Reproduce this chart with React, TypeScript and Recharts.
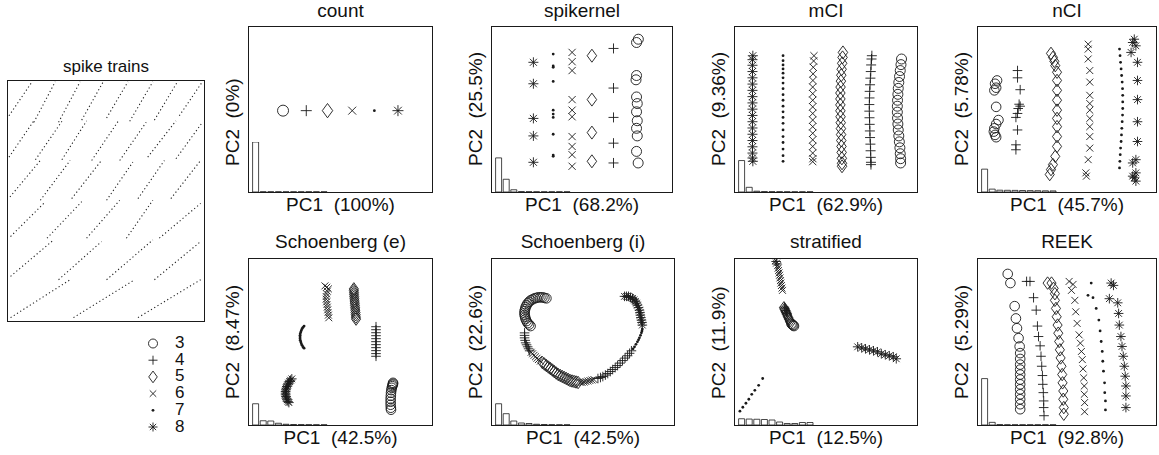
import React from "react";
import { ScatterChart, Scatter, XAxis, YAxis, BarChart, Bar, LineChart, Line } from "recharts";

type P = [number, number][];

// ---- spike trains (segments x1,y1,x2,y2 in % of box) ----
const spikeSegments = [
  [0.5, 85.5, 12.3, 99.7], [13.2, 82.8, 24.1, 99.7], [25.8, 82.8, 36.8, 99.7], [37.6, 83.7, 48.6, 99.7],
  [50.3, 84.6, 61.2, 99.7], [62.1, 83.2, 73.9, 99.7], [74.7, 83.7, 86.5, 99.7], [87.4, 85.5, 99.2, 99.7],
  [0.5, 68.3, 13.2, 83.4], [14, 67.2, 27.5, 83.2], [27.5, 67.2, 40.1, 83.4], [42.7, 66.9, 56.2, 83.2],
  [57, 66.9, 70.5, 82.8], [71.3, 68.3, 85.7, 83.4], [85.7, 67.6, 99.2, 82.8],
  [1, 51.7, 16.5, 66.9], [16.5, 50.3, 31.7, 66.9], [32.5, 51, 47.7, 66.9], [50.3, 50.3, 63.7, 66.2],
  [66.3, 51, 79.8, 66.9], [83.1, 51, 98.3, 66.9],
  [1.3, 35.2, 19.1, 49.7], [19.9, 34.5, 37.6, 49.7], [40.1, 34.5, 57, 50.3], [60.4, 34.5, 73.9, 50.3],
  [77.2, 34.5, 98.3, 49],
  [1.3, 18.6, 23.3, 33.8], [25.8, 17.2, 47.7, 33.1], [50.3, 17.2, 73.9, 33.8], [74.7, 17.2, 98.3, 33.1],
  [1.3, 1.4, 31.7, 17.2], [33.4, 1.4, 64.6, 17.2], [66.3, 1.4, 98.3, 17.2],
];

const legendKinds = ["o", "+", "d", "x", ".", "*"];
const legendLabels = ["3", "4", "5", "6", "7", "8"];

// ---- count ----
const count3: P = [[18.6, 49.3]];
const count4: P = [[31.3, 49.3]];
const count5: P = [[42.9, 49.3]];
const count6: P = [[56.4, 49.3]];
const count7: P = [[68.5, 49.3]];
const count8: P = [[81.4, 49.3]];
const countSpec = [100, 0.4, 0.4, 0.4, 0.4, 0.4, 0.4, 0.4, 0.4, 0.4];

// ---- spikernel ----
const sk3: P = [[81.3, 92.6], [80.3, 90.6], [80.3, 70.6], [80, 68], [80.3, 57.6], [80.7, 53.6], [80.3, 48.6], [80.7, 43.2], [80.3, 38.6], [80.7, 34], [80.3, 24.6], [81.2, 17.6]];
const sk4: P = [[67.5, 87], [67.5, 63], [67.5, 45.2], [67.5, 29.6], [67.5, 17.6]];
const sk5: P = [[55.5, 82.6], [55.5, 56], [55.5, 36], [55.5, 18.6]];
const sk6: P = [[44.5, 84.6], [44.5, 79], [44.5, 73.6], [44.5, 56], [44.5, 49.6], [44.5, 45.6], [44.5, 33.6], [44.5, 27.6], [44.5, 22.6], [44.5, 15.6]];
const sk7: P = [[34, 83.6], [34, 76.4], [34, 75.6], [34, 67], [34, 49.6], [34, 47.2], [34, 45.2], [34, 35], [34, 22.4], [34, 21.6]];
const sk8: P = [[23, 78.6], [23, 65.6], [23, 44.6], [23, 34], [23, 18]];
const skSpec = [68.2, 25.5, 4.5, 0.8, 0.5, 0.4, 0.4, 0.4, 0.4, 0.4];

// ---- mCI ----
const mci3: P = [[91.5, 80.6], [91.2, 77.2], [90.8, 73.6], [90.4, 70], [90, 66.4], [89.7, 62.8], [89.5, 59.2], [89.3, 55.6], [89.2, 52], [89.2, 48.4], [89.3, 44.8], [89.5, 41.2], [89.7, 37.6], [90, 34], [90.3, 30.4], [90.6, 26.8], [90.8, 23.2], [91, 20.2], [91, 17.6]];
const mci4: P = [[75.2, 82.6], [75, 80.6], [74.8, 77], [74.6, 73], [74.4, 69], [74.2, 65], [74, 61], [73.9, 57], [73.8, 53], [73.8, 49], [73.9, 45], [74, 41], [74.1, 37], [74.2, 33], [74.4, 29], [74.5, 25], [74.6, 21], [74.7, 18], [74.7, 16.6]];
const mci5: P = [[59.3, 84.6], [59.1, 81.6], [58.9, 78], [58.6, 74.4], [58.4, 70.8], [58.2, 67.2], [58, 63.6], [57.9, 60], [57.9, 56.4], [57.9, 52.8], [57.9, 49.2], [58, 45.6], [58.1, 42], [58.2, 38.4], [58.3, 34.8], [58.4, 31.2], [58.5, 27.6], [58.6, 24], [58.7, 20.4], [58.8, 17.4], [58.8, 15.6]];
const mci6: P = [[43.4, 82.6], [43.2, 79.4], [43, 75.6], [42.9, 71.6], [42.8, 67.6], [42.7, 63.6], [42.7, 59.6], [42.7, 55.6], [42.7, 51.6], [42.7, 47.6], [42.7, 43.6], [42.7, 39.6], [42.7, 35.6], [42.7, 31.6], [42.7, 27.6], [42.7, 23.6], [42.8, 20.2], [42.7, 18.4]];
const mci7: P = [[26.4, 82.6], [26.4, 79.6], [26.4, 77], [26.4, 74.6], [26.4, 72], [26.4, 69.2], [26.4, 66], [26.4, 62.6], [26.4, 59], [26.4, 55.6], [26.4, 52], [26.4, 48.6], [26.4, 45.2], [26.4, 41.6], [26.4, 37.6], [26.4, 33.6], [26.4, 30], [26.4, 26], [26.4, 22], [26.4, 18.6]];
const mci8: P = [[9.8, 82.6], [9.6, 80.2], [9.6, 76.8], [9.6, 73], [9.6, 69.2], [9.6, 65.4], [9.6, 61.6], [9.6, 57.8], [9.6, 54], [9.6, 50.2], [9.6, 46.4], [9.6, 42.6], [9.6, 38.8], [9.6, 35], [9.6, 31.2], [9.6, 27.4], [9.6, 23.6], [9.6, 20.6], [9.8, 18.6]];
const mciSpec = [62.9, 9.36, 1.6, 0.8, 0.6, 0.5, 0.4, 0.4, 0.4, 0.4];

// ---- nCI ----
const nci3: P = [[10.7, 67.6], [9.6, 65.6], [10.2, 63.2], [9.2, 61.6], [10.2, 51.6], [11.5, 43.6], [10.2, 41.2], [9.2, 38.6], [8.9, 36.6], [9.6, 34.6], [10.2, 33.2]];
const nci4: P = [[22.2, 73.6], [22.2, 69.2], [23.7, 62], [23.1, 53.2], [23.7, 52], [22.6, 50.6], [22.2, 47.6], [21.3, 45.2], [22.2, 37.6], [21.3, 28.6], [21.3, 25.6]];
const nci5: P = [[41, 84], [42.1, 81.6], [42.9, 79.2], [43.4, 76.6], [44.4, 72.6], [44.4, 67.6], [44.4, 61.6], [44.4, 55.6], [44.4, 49.6], [44.4, 44.6], [44.4, 39.6], [44.4, 33.6], [44.4, 27.6], [43.4, 21.6], [42.1, 16.6], [41, 13.6], [40.3, 10.6]];
const nci6: P = [[61.9, 89.6], [61.9, 86.6], [61.9, 80.6], [62.8, 73.6], [62.8, 66.6], [62.8, 58.6], [62.8, 53.6], [62.8, 49.6], [62.8, 44.6], [62.8, 39.6], [62.8, 33.6], [62.8, 26.6], [61.9, 19.6], [60.6, 11.6], [60.9, 9.6]];
const nci7: P = [[79.5, 86.6], [79.8, 82.6], [80.1, 78.6], [80.4, 74.6], [80.7, 70.6], [81, 66.6], [81.2, 62.6], [81.3, 58.6], [81.3, 54.6], [81.3, 50.6], [81.2, 46.6], [81, 42.6], [80.8, 38.6], [80.6, 34.6], [80.4, 30.6], [80.1, 26.6], [79.9, 22.6], [79.7, 18.6], [79.5, 14.6]];
const nci8: P = [[87.8, 92.6], [86.9, 90.6], [88.7, 88.6], [86, 84.6], [89.6, 78.6], [89.6, 67.6], [89.6, 56], [89.6, 42.6], [89.6, 30.6], [88.7, 19.6], [86.9, 17.6], [88.7, 11.6], [87.8, 8.6], [88.7, 6.6], [86.9, 9.6]];
const nciSpec = [45.7, 5.78, 3.6, 3.4, 3.2, 3, 2.8, 2.6, 2.4, 2.2];

// ---- Schoenberg (e) ----
const se3: P = [[78.7, 25.4], [78.7, 24.8], [78.5, 24.2], [78.3, 23.4], [78, 22.4], [77.8, 21], [77.6, 19.4], [77.5, 17.6], [77.4, 15.8], [77.4, 14], [77.4, 12.2], [77.5, 10.4], [77.6, 9.2]];
const se4: P = [[69.4, 59.2], [69.4, 57.4], [69.4, 55.6], [69.4, 53.8], [69.4, 52], [69.4, 50.2], [69.4, 48.4], [69.4, 46.6], [69.4, 44.8], [69.4, 43], [69.4, 41.4]];
const se5: P = [[57.3, 82], [57.3, 81], [57.4, 79.8], [57.4, 78.6], [57.5, 77.3], [57.6, 76], [57.7, 74.7], [57.8, 73.4], [57.9, 72], [58, 70.6], [58.1, 69.2], [58.2, 67.8], [58.3, 66.4], [58.4, 65], [58.5, 63.8]];
const se6: P = [[41.5, 83.8], [42.5, 83], [43.4, 82], [42.8, 80.6], [42.4, 79], [42.2, 77.4], [42.2, 75.8], [42.4, 74.2], [42.6, 72.6], [42.8, 71], [43, 69.4], [43.2, 67.8], [43.4, 66.2], [43.6, 64.6]];
const se7: P = [[30.1, 59.6], [29.5, 58.8], [29, 58], [28.6, 57], [28.3, 56], [28, 55], [27.9, 54], [27.9, 53], [27.9, 52], [28, 51], [28.3, 50], [28.6, 49], [29, 48], [29.5, 47], [30.1, 46.3]];
const se8: P = [[23.4, 27.8], [22.7, 27], [22.2, 26.2], [21.6, 25.2], [21.1, 24.2], [20.7, 23.2], [20.4, 22.2], [20.2, 21.2], [20, 20.2], [20, 19.2], [20, 18.2], [20.2, 17.2], [20.4, 16.2], [20.8, 15.2], [21.3, 14.2], [21.8, 13.5]];
const seSpec = [42.5, 8.47, 8, 3.5, 1.5, 1, 0.8, 0.6, 0.5, 0.4];

// ---- Schoenberg (i) ----
const si3: P = [[29.9, 76.3], [28.8, 76.6], [27.7, 76.9], [26.6, 76.9], [25.5, 76.9], [24.4, 76.6], [23.4, 76.3], [22.3, 75.7], [21.2, 75.1], [20.4, 74.2], [19.6, 73.3], [19, 72.1], [18.5, 71], [18.2, 69.8], [17.9, 68.6], [17.9, 67.4], [17.9, 66.2], [18.2, 65], [18.5, 63.8], [19, 62.6], [19.6, 61.4], [20.4, 60.5], [21.2, 59.6]];
const si4: P = [[17.9, 55.5], [17.9, 54], [17.9, 52.5], [18.2, 51], [18.5, 49.5], [19, 48.3], [19.6, 47.1], [20.1, 45.9], [20.7, 44.7],
  [58.2, 28], [59.6, 28.6], [60.9, 29.2], [62.3, 30.1], [63.6, 31], [65, 32.2], [66.3, 33.4], [67.7, 34.6], [69, 35.8], [70.4, 37.3], [71.7, 38.8], [73.1, 40.3], [74.5, 41.7], [75.6, 43.2], [76.6, 44.7]];
const si5: P = [[27.7, 37.6], [28.8, 36.7], [29.9, 35.8], [31, 34.9], [32.1, 34], [33.2, 33.1], [34.2, 32.2], [35.3, 31.3], [36.4, 30.4], [37.5, 29.8], [38.6, 29.2], [39.7, 28.6], [40.8, 28], [41.9, 27.4], [42.9, 26.8], [44, 26.5], [45.1, 26.2], [46.2, 25.9], [47.3, 25.6]];
const si6: P = [[21.5, 43.8], [22.3, 42.9], [23.1, 42], [23.9, 41.1], [24.7, 40.2], [25.5, 39.4], [26.6, 38.5],
  [48.4, 25.6], [49.5, 25.6], [50.6, 25.9], [51.6, 26.2], [52.7, 26.5], [53.8, 26.8], [54.9, 27.1], [56, 27.4]];
const si7: P = [[77.5, 45.9], [78.3, 47.1], [79.1, 48.6], [79.9, 50.1], [80.5, 51.3], [81, 52.5], [81.6, 54], [82.1, 55.5], [82.4, 56.7], [82.6, 57.8]];
const si8: P = [[82.6, 60.2], [82.4, 61.7], [82.1, 63.2], [81.8, 64.7], [81.5, 66.2], [81.3, 67.7], [81, 69.2], [80.5, 70.7], [79.9, 72.2], [79.4, 73.4], [78.8, 74.5], [78, 75.4], [77.2, 76.3], [76.1, 76.9], [75, 77.5], [73.9, 77.5], [72.8, 77.5]];
const siSpec = [42.5, 22.6, 8, 4, 3, 1.5, 1, 0.6, 0.4, 0.4];

// ---- stratified ----
const st3: P = [[31, 61], [31.5, 60.4], [32, 60], [32.4, 59.6]];
const st4: P = [[22.6, 98.5], [23, 97], [27.1, 71], [27.5, 70], [27.9, 69], [28.3, 68], [28.7, 67]];
const st5: P = [[26.9, 70.6], [27.3, 69.6], [27.7, 68.6], [28.1, 67.6], [28.5, 66.6], [28.9, 65.6], [29.3, 64.6], [29.7, 63.6], [30.1, 62.6], [30.5, 61.6]];
const st6: P = [[22.3, 99], [22.8, 97.5], [23.4, 96], [23.7, 94.5], [23.9, 93], [24.2, 91.6], [24.5, 90.2], [24.7, 88.6], [25, 87], [25.2, 85.5], [25.5, 84], [25.8, 82.5], [26.1, 81.1]];
const st7: P = [[2.7, 8.3], [4.3, 10.7], [6, 13.1], [7.6, 15.5], [9.2, 18.5], [10.9, 20.9], [13, 23.9], [15.2, 28]];
const st8: P = [[67.4, 47.1], [69.6, 46.5], [71.7, 45.9], [73.9, 45.3], [76.1, 44.7], [78.3, 44.1], [80.4, 42.9], [82.6, 42.3], [84.8, 41.7], [87, 41.1], [88.6, 39.9]];
const stSpec = [12.5, 11.9, 11.5, 11, 10, 6, 3, 3, 5, 5];

// ---- REEK ----
const rk3: P = [[16.7, 91], [18.2, 85.5], [20.6, 71.6], [21.3, 64.2], [21.9, 58.3], [22.8, 52.3], [23.4, 47.3], [23.7, 43.3], [23.7, 39.8], [23.7, 36.4], [23.7, 33.4], [23.7, 30.4], [23.7, 27.4], [23.7, 24.5], [23.7, 21.5], [23.7, 18.5], [23.7, 15.5], [23.7, 12.5], [23.7, 9.5]];
const rk4: P = [[27.3, 86.5], [29.2, 86.5], [31.2, 76.7], [32.7, 69.2], [33.4, 59.6], [34, 53.3], [34.9, 47.7], [35.4, 41.4], [35.8, 35.4], [36.2, 29.8], [36.4, 24.5], [36.7, 19.5], [36.9, 14.5], [36.9, 10.5], [37.1, 5.6]];
const rk5: P = [[39.1, 85.5], [41.3, 85.5], [42.5, 82.3], [43.2, 79.1], [43.2, 75.1], [43.8, 70.2], [44.2, 65.2], [44.7, 60.2], [45.1, 55.3], [45.6, 50.3], [46, 45.3], [46.4, 40.4], [46.9, 35.4], [47.3, 30.4], [47.5, 25.4], [47.9, 20.5], [47.9, 15.5], [48.2, 10.5], [48.2, 6.5]];
const rk6: P = [[51.2, 86.5], [53.4, 84.7], [52.5, 81.1], [54.4, 75.1], [54.9, 68.2], [55.7, 61.2], [56.8, 54.3], [57.5, 49.3], [58.1, 44.3], [58.6, 39.4], [59, 33.8], [59.4, 28.4], [59.7, 23.5], [59.7, 18.5], [59.9, 13.5], [59.9, 8]];
const rk7: P = [[63.6, 85.5], [61.8, 78.1], [64.6, 76.7], [66.4, 70.2], [67.9, 63.2], [68.6, 56.7], [69.2, 50.3], [69.8, 44.3], [70.1, 38.4], [70.5, 32.4], [71.1, 25.4], [71.2, 19.5], [71.6, 14.5], [71.6, 9.1]];
const rk8: P = [[74.8, 85.5], [76.1, 84.1], [73.8, 76.1], [78.5, 73.6], [79, 67.2], [79.4, 60.2], [80.3, 53.3], [80.9, 47.3], [81.6, 41.4], [82.2, 35.4], [82.7, 29.4], [83.1, 23.5], [83.1, 17.5], [83.1, 10.5]];
const rkSpec = [92.8, 5.29, 0.8, 0.4, 0.4, 0.4, 0.4, 0.4, 0.4, 0.4];

const FONT = '"Liberation Sans", Arial, Helvetica, sans-serif';
const INK = "#1a1a1a";

function Marker({ cx, cy, kind, s }: { cx: number; cy: number; kind: string; s: number }) {
  const st = { stroke: INK, strokeWidth: 0.9, fill: "none" };
  if (cx == null || cy == null) return null;
  if (kind === "o") return <circle cx={cx} cy={cy} r={s} {...st} />;
  if (kind === "+") return <path d={`M${cx - s},${cy}H${cx + s}M${cx},${cy - s}V${cy + s}`} {...st} />;
  if (kind === "d") {
    const w = s * 0.95, h = s * 1.3;
    return <path d={`M${cx},${cy - h}L${cx + w},${cy}L${cx},${cy + h}L${cx - w},${cy}Z`} {...st} />;
  }
  if (kind === "x") {
    const a = s * 0.72;
    return <path d={`M${cx - a},${cy - a}L${cx + a},${cy + a}M${cx - a},${cy + a}L${cx + a},${cy - a}`} {...st} />;
  }
  if (kind === ".") return <circle cx={cx} cy={cy} r={1.4} fill={INK} />;
  const a = s * 0.7;
  return (
    <path
      d={`M${cx - s},${cy}H${cx + s}M${cx},${cy - s}V${cy + s}M${cx - a},${cy - a}L${cx + a},${cy + a}M${cx - a},${cy + a}L${cx + a},${cy - a}`}
      {...st}
    />
  );
}

const textStyle: React.CSSProperties = {
  position: "absolute",
  fontFamily: FONT,
  fontSize: 19,
  lineHeight: "22px",
  whiteSpace: "pre",
  color: "#111",
};

type PanelProps = {
  left: number;
  top: number;
  w: number;
  h: number;
  title: string;
  pc1: string;
  pc2: string;
  s: number;
  series: { kind: string; pts: P }[];
  spec: number[];
};

function Panel({ left, top, w, h, title, pc1, pc2, s, series, spec }: PanelProps) {
  return (
    <>
      <div style={{ ...textStyle, left, top: Math.max(0, top - 27), width: w, textAlign: "center" }}>{title}</div>
      <div
        style={{
          position: "absolute",
          left,
          top,
          width: w,
          height: h,
          border: `1px solid ${INK}`,
          boxSizing: "border-box",
        }}
      >
        <ScatterChart width={w - 2} height={h - 2} margin={{ top: 0, right: 0, bottom: 0, left: 0 }}>
          <XAxis type="number" dataKey="x" domain={[0, 100]} hide />
          <YAxis type="number" dataKey="y" domain={[0, 100]} hide />
          {series.map((sr, i) => (
            <Scatter
              key={i}
              data={sr.pts.map(([x, y]) => ({ x, y }))}
              isAnimationActive={false}
              shape={(p: any) => <Marker cx={p.cx} cy={p.cy} kind={sr.kind} s={s} />}
            />
          ))}
        </ScatterChart>
        <div style={{ position: "absolute", left: 3, bottom: 0 }}>
          <BarChart
            width={76}
            height={50}
            data={spec.map((v, i) => ({ i, v }))}
            margin={{ top: 0, right: 0, bottom: 0, left: 0 }}
            barCategoryGap={0.6}
          >
            <XAxis dataKey="i" hide />
            <YAxis domain={[0, 100]} hide />
            <Bar dataKey="v" fill="#fff" stroke={INK} strokeWidth={0.8} isAnimationActive={false} />
          </BarChart>
        </div>
      </div>
      <div style={{ ...textStyle, left, top: top + h + 1, width: w, textAlign: "center" }}>{pc1}</div>
      <div
        style={{
          ...textStyle,
          left: left - 26.3,
          top: top + h - 27,
          transformOrigin: "0 0",
          transform: "rotate(-90deg)",
        }}
      >
        {pc2}
      </div>
    </>
  );
}

const sym = (a: P, b: P, c: P, d: P, e: P, f: P) => [
  { kind: "o", pts: a },
  { kind: "+", pts: b },
  { kind: "d", pts: c },
  { kind: "x", pts: d },
  { kind: ".", pts: e },
  { kind: "*", pts: f },
];

export default function App() {
  const T1 = 26, H1 = 167, T2 = 258, H2 = 168;
  return (
    <div style={{ position: "absolute", left: 0, top: 0, width: 1159, height: 455, background: "#fff", overflow: "hidden" }}>
      {/* spike trains */}
      <div style={{ ...textStyle, fontSize: 17, left: 7, top: 56, width: 198, textAlign: "center" }}>spike trains</div>
      <div
        style={{
          position: "absolute",
          left: 7,
          top: 80,
          width: 198,
          height: 242,
          border: `1px solid ${INK}`,
          boxSizing: "border-box",
        }}
      >
        <LineChart width={196} height={240} margin={{ top: 0, right: 0, bottom: 0, left: 0 }}>
          <XAxis type="number" dataKey="x" domain={[0, 100]} hide />
          <YAxis type="number" domain={[0, 100]} hide />
          {spikeSegments.map((sg, i) => (
            <Line
              key={i}
              data={[
                { x: sg[0], y: sg[1] },
                { x: sg[2], y: sg[3] },
              ]}
              dataKey="y"
              stroke="#222"
              strokeWidth={1.1}
              strokeDasharray="1.2 2.6"
              dot={false}
              isAnimationActive={false}
            />
          ))}
        </LineChart>
      </div>
      {/* legend */}
      <svg style={{ position: "absolute", left: 140, top: 334 }} width={28} height={104}>
        {legendKinds.map((k, i) => (
          <Marker key={k} kind={k} cx={13} cy={9.5 + i * 16.7} s={4.5} />
        ))}
      </svg>
      {legendLabels.map((l, i) => (
        <div key={l} style={{ ...textStyle, fontSize: 17, lineHeight: "18px", left: 175, top: 334 + i * 16.7 }}>
          {l}
        </div>
      ))}

      <Panel left={248} top={T1} w={185} h={H1} title="count" pc1="PC1  (100%)" pc2="PC2  (0%)" s={5.5}
        series={sym(count3, count4, count5, count6, count7, count8)} spec={countSpec} />
      <Panel left={491} top={T1} w={182} h={H1} title="spikernel" pc1="PC1  (68.2%)" pc2="PC2  (25.5%)" s={5}
        series={sym(sk3, sk4, sk5, sk6, sk7, sk8)} spec={skSpec} />
      <Panel left={734} top={T1} w={184} h={H1} title="mCI" pc1="PC1  (62.9%)" pc2="PC2  (9.36%)" s={5}
        series={sym(mci3, mci4, mci5, mci6, mci7, mci8)} spec={mciSpec} />
      <Panel left={977} top={T1} w={180} h={H1} title="nCI" pc1="PC1  (45.7%)" pc2="PC2  (5.78%)" s={4.8}
        series={sym(nci3, nci4, nci5, nci6, nci7, nci8)} spec={nciSpec} />

      <Panel left={248} top={T2} w={185} h={H2} title="Schoenberg (e)" pc1="PC1  (42.5%)" pc2="PC2  (8.47%)" s={4.8}
        series={sym(se3, se4, se5, se6, se7, se8)} spec={seSpec} />
      <Panel left={491} top={T2} w={184} h={H2} title="Schoenberg (i)" pc1="PC1  (42.5%)" pc2="PC2  (22.6%)" s={4.8}
        series={sym(si3, si4, si5, si6, si7, si8)} spec={siSpec} />
      <Panel left={734} top={T2} w={184} h={H2} title="stratified" pc1="PC1  (12.5%)" pc2="PC2  (11.9%)" s={4.8}
        series={sym(st3, st4, st5, st6, st7, st8)} spec={stSpec} />
      <Panel left={977} top={T2} w={180} h={H2} title="REEK" pc1="PC1  (92.8%)" pc2="PC2  (5.29%)" s={4.8}
        series={sym(rk3, rk4, rk5, rk6, rk7, rk8)} spec={rkSpec} />
    </div>
  );
}
